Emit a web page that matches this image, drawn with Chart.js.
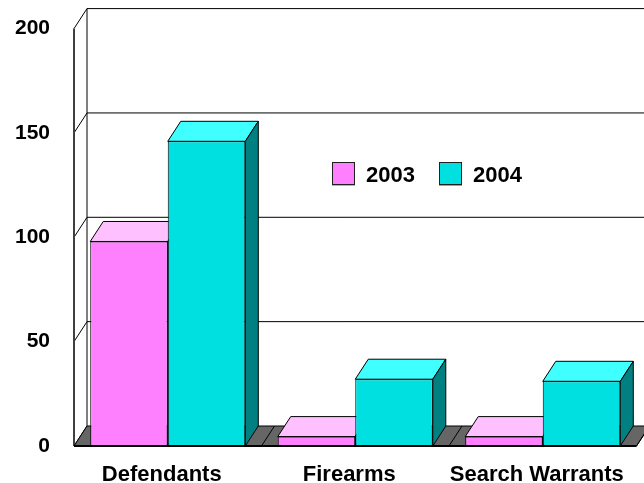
<!DOCTYPE html>
<html>
<head>
<meta charset="utf-8">
<script src="https://cdn.jsdelivr.net/npm/chart.js@4"></script>
<style>
    html, body { margin: 0; padding: 0; background: #fff; }
    canvas { display: block; }
</style>
</head>
<body>
<canvas id="bar-chart" width="644" height="483"></canvas>
<script>
const categories = ["Defendants", "Firearms", "Search Warrants"];
const values_2003 = [98, 4.5, 4.5];
const values_2004 = [146, 32, 31];
const y_ticks = [0, 50, 100, 150, 200];

const x_font = { family: "'Liberation Sans', Arial, sans-serif", size: 22, weight: "bold" };
const y_font = { family: "'Liberation Sans', Arial, sans-serif", size: 21, weight: "bold" };
const legend_font = "bold 22px 'Liberation Sans', Arial, sans-serif";

// how far the back wall sits from the front plane
const depth_x = 13;
const depth_y = -20;

function face(ctx, points, fill) {
    ctx.beginPath();
    ctx.moveTo(points[0][0], points[0][1]);
    for (let i = 1; i < points.length; i++) {
        ctx.lineTo(points[i][0], points[i][1]);
    }
    ctx.closePath();
    if (fill) {
        ctx.fillStyle = fill;
        ctx.fill();
    }
    ctx.stroke();
}

function line(ctx, x1, y1, x2, y2) {
    ctx.beginPath();
    ctx.moveTo(x1, y1);
    ctx.lineTo(x2, y2);
    ctx.stroke();
}

// walls, gridlines, floor and the depth faces of the bars
const box_plugin = {
    id: "box",
    beforeDatasetsDraw(chart) {
        const ctx = chart.ctx;
        const area = chart.chartArea;
        const y = chart.scales.y;
        const x = chart.scales.x;
        ctx.save();
        ctx.strokeStyle = "#000";
        ctx.lineWidth = 1;

        const left = area.left;
        const back_left = left + depth_x;
        const back_right = area.right + depth_x;

        for (let i = 0; i < y_ticks.length; i++) {
            const py = y.getPixelForValue(y_ticks[i]);
            line(ctx, left, py, back_left, py + depth_y);
            if (y_ticks[i] > 0) {
                line(ctx, back_left, py + depth_y, back_right, py + depth_y);
            }
        }
        const top = y.getPixelForValue(y_ticks[y_ticks.length - 1]);
        const bottom = y.getPixelForValue(0);
        line(ctx, back_left, top + depth_y, back_left, bottom + depth_y);

        ctx.strokeStyle = "#404040";
        ctx.lineWidth = 2;
        line(ctx, left, top, left, bottom);
        ctx.strokeStyle = "#000";
        ctx.lineWidth = 1;

        face(ctx, [[left, bottom], [back_left, bottom + depth_y], [back_right, bottom + depth_y], [area.right, bottom]], "#666666");
        for (let i = 1; i <= categories.length; i++) {
            const px = x.getPixelForValue(i - 0.5);
            line(ctx, px, bottom, px + depth_x, bottom + depth_y);
        }

        // 2003 first so the 2004 faces and fronts cover it
        chart.data.datasets.forEach(function (ds, index) {
            chart.getDatasetMeta(index).data.forEach(function (bar) {
                const l = bar.x - bar.width / 2;
                const r = bar.x + bar.width / 2;
                face(ctx, [[l, bar.y], [l + depth_x, bar.y + depth_y], [r + depth_x, bar.y + depth_y], [r, bar.y]], ds.topColour);
                face(ctx, [[r, bar.y], [r + depth_x, bar.y + depth_y], [r + depth_x, bar.base + depth_y], [r, bar.base]], ds.sideColour);
            });
        });
        ctx.restore();
    },
    afterDatasetsDraw(chart) {
        const ctx = chart.ctx;
        const area = chart.chartArea;
        const bottom = chart.scales.y.getPixelForValue(0);
        ctx.save();
        ctx.strokeStyle = "#000";
        ctx.lineWidth = 2;
        line(ctx, area.left, bottom, area.right, bottom);

        // legend sits inside the plot
        const items = chart.data.datasets;
        const starts = [332, 439];
        ctx.font = legend_font;
        ctx.textBaseline = "middle";
        ctx.textAlign = "left";
        for (let i = 0; i < items.length; i++) {
            ctx.lineWidth = 1;
            ctx.strokeStyle = "#202020";
            ctx.fillStyle = items[i].backgroundColor;
            ctx.fillRect(starts[i], 162, 23, 24);
            ctx.strokeRect(starts[i] + 0.5, 162.5, 22, 22);
            ctx.fillStyle = "#000";
            ctx.fillText(items[i].label, starts[i] + 34, 176);
        }
        ctx.restore();
    }
};

const bar_data = {
    labels: categories,
    datasets: [{
        label: "2003",
        data: values_2003,
        backgroundColor: "#FF80FF",
        topColour: "#FFC0FF",
        sideColour: "#804080",
        borderColor: "#000",
        borderWidth: 1,
        borderSkipped: false
    },
    {
        label: "2004",
        data: values_2004,
        backgroundColor: "#00E0E0",
        topColour: "#40FFFF",
        sideColour: "#008080",
        borderColor: "#000",
        borderWidth: 1,
        borderSkipped: false
    }]
};

const config_bar = {
    type: "bar",
    data: bar_data,
    options: {
        responsive: false,
        animation: false,
        categoryPercentage: 0.827,
        barPercentage: 1,
        layout: {
            padding: { top: 27, right: 7.5, left: 0, bottom: 0 }
        },
        plugins: {
            legend: { display: false },
            tooltip: { enabled: false }
        },
        scales: {
            x: {
                grid: { display: false },
                border: { display: false },
                afterFit: function (scale) { scale.height = 37; },
                ticks: {
                    color: "#000",
                    font: x_font,
                    padding: 8,
                    autoSkip: false,
                    maxRotation: 0,
                    labelOffset: -6
                }
            },
            y: {
                min: 0,
                max: 200,
                grid: { display: false },
                border: { display: false },
                afterFit: function (scale) { scale.width = 74; },
                afterBuildTicks: function (scale) {
                    scale.ticks = y_ticks.map(v => ({ value: v }));
                },
                ticks: {
                    color: "#000",
                    font: y_font,
                    padding: 16
                }
            }
        }
    },
    plugins: [box_plugin]
};

const bar_canvas = document.getElementById("bar-chart");
const bar_chart = new Chart(bar_canvas.getContext("2d"), config_bar);
</script>
</body>
</html>
